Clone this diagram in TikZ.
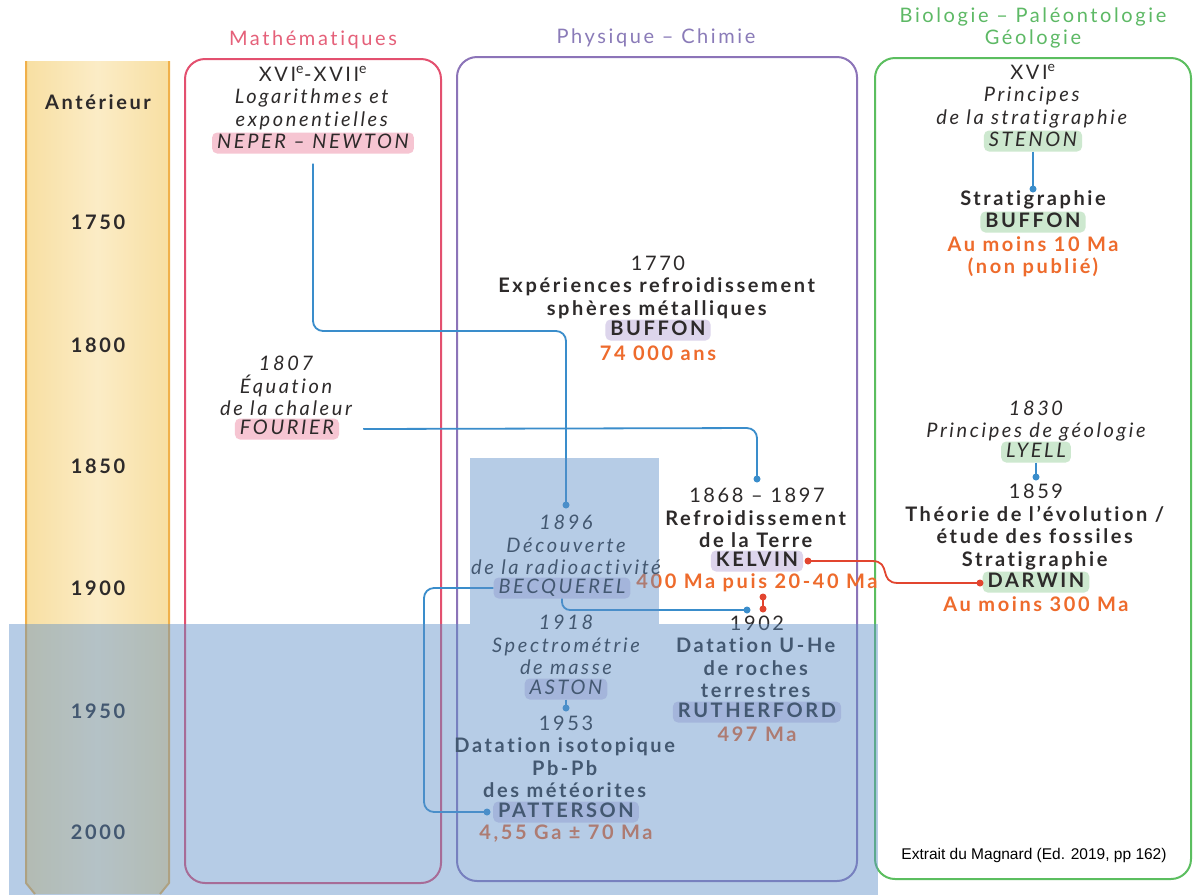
\documentclass[tikz,border=0pt]{standalone}
\usepackage{fontspec}
\setmainfont{Lato}[LetterSpace=13, Ligatures=NoCommon]
\newfontfamily\arialf{Liberation Sans}
\usetikzlibrary{calc}
\definecolor{txt}{HTML}{2D2A2A}
\definecolor{pinkB}{HTML}{E3506F}
\definecolor{pinkT}{HTML}{E56079}
\definecolor{hlpink}{HTML}{F6C5D2}
\definecolor{purB}{HTML}{8C74B8}
\definecolor{purT}{HTML}{8A7BB8}
\definecolor{hlpur}{HTML}{DDD5EC}
\definecolor{grnB}{HTML}{5BBE5F}
\definecolor{grnT}{HTML}{5DB965}
\definecolor{hlgrn}{HTML}{CDE8CF}
\definecolor{orng}{HTML}{EE6B2C}
\definecolor{blc}{HTML}{3A8DCB}
\definecolor{rdc}{HTML}{E2452F}
\definecolor{tlE}{HTML}{F8DFA2}
\definecolor{tlM}{HTML}{FBECC6}
\definecolor{tlEdge}{HTML}{F0B04A}
\definecolor{ovl}{HTML}{5F90C8}
\newcommand\fR{\fontsize{20}{22.5}\selectfont}
\begin{document}
\begin{tikzpicture}[x=1pt,y=-1pt,
  base/.style={font=\fR, text=txt, align=center, inner sep=0pt},
  bd/.style={base, font=\fR\bfseries},
  itx/.style={base, font=\fR\itshape},
  ttl/.style={font=\fR, align=center, inner sep=0pt},
  tl/.style={font=\fR\bfseries, text=txt, inner sep=0pt},
  hl/.style={rounded corners=5pt, inner xsep=5pt, inner ysep=2pt, text height=13.5pt, text depth=3.5pt, text=txt},
  hlI/.style={hl, font=\fR\itshape},
  hlB/.style={hl, font=\fR\bfseries},
  box/.style={line width=2pt, rounded corners=20pt},
  bl/.style={blc, line width=1.8pt},
  rd/.style={rdc, line width=1.8pt},
  bdot/.style={blc},
  rdot/.style={rdc}
]
\useasboundingbox (0,0) rectangle (1193,895);
\fill[white] (0,0) rectangle (1193,895);

% timeline
\shade[left color=tlE, right color=tlE, middle color=tlM] (26,61) -- (169,61) -- (169,883) -- (160,894) -- (35,894) -- (26,883) -- cycle;
\draw[tlEdge, line width=2pt] (26,61) -- (26,883) -- (35,894);
\draw[tlEdge, line width=2pt] (169,61) -- (169,883) -- (160,894);
\node[tl] (tAnt) at (98,102) {Antérieur};
\node[tl] (t1750) at (98,222) {1750};
\node[tl] (t1800) at (98,345) {1800};
\node[tl] (t1850) at (98,466) {1850};
\node[tl] (t1900) at (98,588) {1900};
\node[tl] (t1950) at (98,711) {1950};
\node[tl] (t2000) at (98,832) {2000};

% boxes and titles
\draw[box, pinkB] (185,59) rectangle (441,883);
\draw[box, purB] (457,57) rectangle (857,881);
\draw[box, grnB] (875,58) rectangle (1191,879);
\node[ttl, text=pinkT] (tMath) at (313,40) {Mathématiques};
\node[ttl, text=purT] (tPhys) at (656,38) {Physique – Chimie};
\node[ttl, text=grnT] (tBio) at (1033,28) {Biologie – Paléontologie\\Géologie};

% Mathematiques
\node[base] (neperT) at (313,98) {XVI\textsuperscript{e}-XVII\textsuperscript{e}\\\textit{Logarithmes et}\\\textit{exponentielles}};
\node[hlI, fill=hlpink] (neper) at (313,143) {NEPER – NEWTON};
\node[itx] (fourT) at (286,386) {1807\\Équation\\de la chaleur};
\node[hlI, fill=hlpink] (fourier) at (287,429) {FOURIER};

% Physique
\node[base] (bufT) at (658,287) {1770\\\textbf{Expériences refroidissement}\\\textbf{sphères métalliques}};
\node[hlB, fill=hlpur] (bufP) at (658,330) {BUFFON};
\node[bd, text=orng] (bufA) at (658,353) {74 000 ans};
\node[base] (kelT) at (757,518) {1868 – 1897\\\textbf{Refroidissement}\\\textbf{de la Terre}};
\node[hlB, fill=hlpur] (kelvin) at (757,561) {KELVIN};
\node[bd, text=orng] (kelA) at (757,583) {400 Ma puis 20-40 Ma};
\node[itx] (becT) at (566,545) {1896\\Découverte\\de la radioactivité};
\node[hlI, fill=hlpur] (becq) at (562,588) {BECQUEREL};
\node[itx] (astT) at (566,645) {1918\\Spectrométrie\\de masse};
\node[hlI, fill=hlpur] (aston) at (566,689) {ASTON};
\node[base] (patT) at (566,757) {1953\\\textbf{Datation isotopique}\\\textbf{Pb-Pb}\\\textbf{des météorites}};
\node[hlB, fill=hlpur] (patt) at (566,812) {PATTERSON};
\node[bd, text=orng] (pattA) at (566,834) {4,55 Ga ± 70 Ma};
\node[base] (rutT) at (757,657) {1902\\\textbf{Datation U-He}\\\textbf{de roches}\\\textbf{terrestres}};
\node[hlB, fill=hlpur] (ruth) at (757,712) {RUTHERFORD};
\node[bd, text=orng] (ruthA) at (757,734) {497 Ma};

% Biologie
\node[base] (stenT) at (1033,96) {XVI\textsuperscript{e}\\\textit{Principes}\\\textit{de la stratigraphie}};
\node[hlI, fill=hlgrn] (stenon) at (1033,141) {STENON};
\node[bd] (bufBT) at (1033,200) {Stratigraphie};
\node[hlB, fill=hlgrn] (bufB) at (1033,222) {BUFFON};
\node[bd, text=orng] (bufBA) at (1033,257) {Au moins 10 Ma\\(non publié)};
\node[itx] (lyT) at (1036,421) {1830\\Principes de géologie};
\node[hlI, fill=hlgrn] (lyell) at (1036,452) {LYELL};
\node[base] (darT) at (1036,527) {1859\\\textbf{Théorie de l’évolution /}\\\textbf{étude des fossiles}\\\textbf{Stratigraphie}};
\node[hlB, fill=hlgrn] (darwin) at (1036,582) {DARWIN};
\node[bd, text=orng] (darA) at (1036,604) {Au moins 300 Ma};
\node[font=\arialf\fontsize{15.5}{18}\selectfont, text=black, inner sep=0pt] (src) at (1034,855) {Extrait du Magnard (Ed. 2019, pp 162)};

% dot coordinates
\coordinate (dA) at (566,505);
\coordinate (dK1) at (757,479);
\coordinate (dP) at (487,812);
\coordinate (dR) at (747,610);
\coordinate (dS) at (1033,189);
\coordinate (dL) at (1036,477);
\coordinate (dAs) at (566,708);
\coordinate (dK) at (808,561);
\coordinate (dD) at (980,583);
\coordinate (dR1) at (763,597);
\coordinate (dR2) at (763,609);

% blue connectors
\draw[bl, rounded corners=10pt] ([yshift=-10pt]neper.south) -- (313,331) -- (566,331) -- (dA);
\draw[bl, rounded corners=10pt] ([xshift=24pt]fourier.east) -- (757,428) -- (dK1);
\draw[bl, rounded corners=10pt] (becq.west) -- (424,588) -- (424,812) -- (dP);
\draw[bl, rounded corners=8pt] (becq.south) |- (dR);
\draw[bl] (stenon.south) -- (dS);
\draw[bl] (lyell.south) -- (dL);
\draw[bl] (aston.south) -- (dAs);
\foreach \p in {dA,dK1,dP,dR,dS,dL,dAs} \fill[bdot] (\p) circle (3.5pt);

% red connectors
\draw[rd] (dK) -- (872,561) .. controls (892,561) and (878,583) .. (898,583) -- (dD);
\draw[rd] (dR1) -- (dR2);
\foreach \p in {dK,dD,dR1,dR2} \fill[rdot] (\p) circle (3.5pt);

% blue overlay
\fill[ovl, opacity=0.45] (9,624) rectangle (878,895);
\fill[ovl, opacity=0.45] (470,458) rectangle (659,624);
\end{tikzpicture}
\end{document}
